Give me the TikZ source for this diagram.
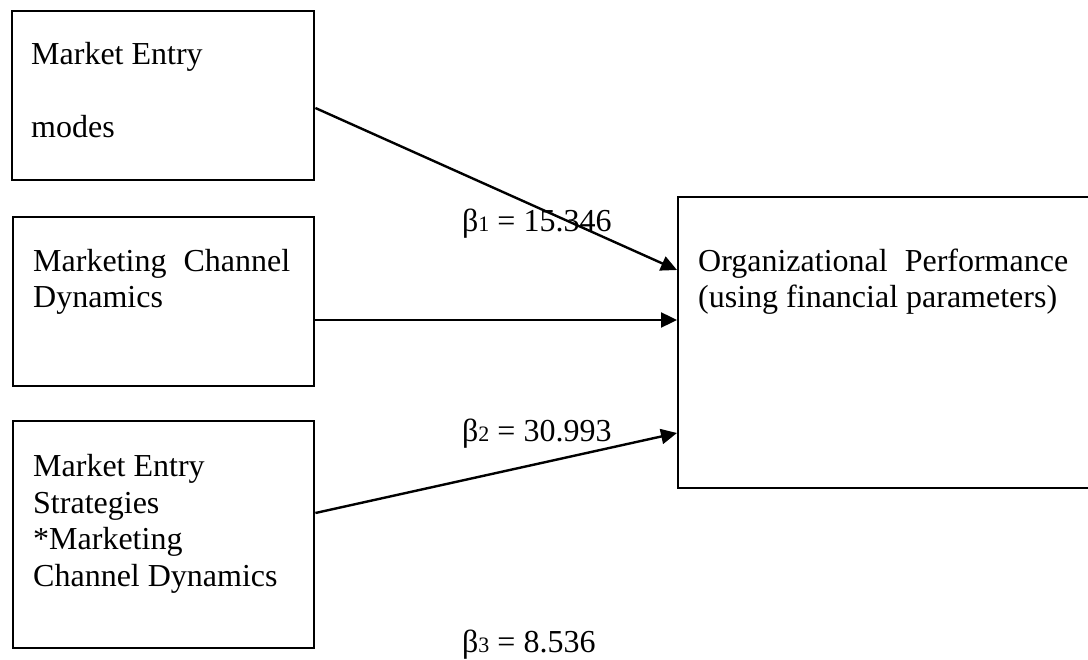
\documentclass[tikz,border=0pt]{standalone}
\usepackage{fontspec}
\setmainfont{Liberation Serif}
\usetikzlibrary{arrows.meta,calc}
\tikzset{
  box/.style={draw, line width=2.4pt, inner sep=0pt, anchor=north west},
  txt/.style={inner sep=0pt, anchor=base west, font=\fontsize{32}{36.7}\selectfont},
  conn/.style={line width=2.4pt, -{Triangle[length=16pt,width=15pt]}},
}
\newcommand{\betasub}[1]{β{\fontsize{22}{24}\selectfont #1}}
\begin{document}
\begin{tikzpicture}[x=1pt,y=-1pt]
\useasboundingbox (0,0) rectangle (1088,660);
\clip (0,0) rectangle (1088,660);
% boxes
\node[box, minimum width=302pt, minimum height=169pt] (b1) at (11,10) {};
\node[box, minimum width=301pt, minimum height=169pt] (b2) at (12,216) {};
\node[box, minimum width=301pt, minimum height=227pt] (b3) at (12,420) {};
\node[box, minimum width=430pt, minimum height=291pt] (op) at (677,196) {};
% texts
\node[txt] (t1a) at (31,65) {Market Entry};
\node[txt] (t1b) at (31,138) {modes};
\node[txt] (t2a) at (33,272) {\makebox[257pt][l]{Marketing\hfill Channel}};
\node[txt] (t2b) at (33,308) {Dynamics};
\node[txt] (t3a) at (33,476) {Market Entry};
\node[txt] (t3b) at (33,513) {Strategies};
\node[txt] (t3c) at (33,549) {*Marketing};
\node[txt] (t3d) at (33,586) {Channel Dynamics};
\node[txt] (t4a) at (698,272) {\makebox[370pt][l]{Organizational\hfill Performance}};
\node[txt] (t4b) at (698,308) {(using financial parameters)};
% coefficient labels
\node[txt] (l1) at (462,232) {\betasub{1} = 15.346};
\node[txt] (l2) at (462,442) {\betasub{2} = 30.993};
\node[txt] (l3) at (462,652) {\betasub{3} = 8.536};
% connectors
\coordinate (s1) at ($(b1.north east)+(0,98)$);
\coordinate (s2) at ($(b2.north east)+(0,104)$);
\coordinate (s3) at ($(b3.north east)+(0,93)$);
\coordinate (e1) at ($(op.north west)+(0,74)$);
\coordinate (e2) at ($(op.north west)+(0,124)$);
\coordinate (e3) at ($(op.north west)+(0,237)$);
\draw[conn] (s1) -- (e1);
\draw[conn] (s2) -- (e2);
\draw[conn] (s3) -- (e3);
\end{tikzpicture}
\end{document}
